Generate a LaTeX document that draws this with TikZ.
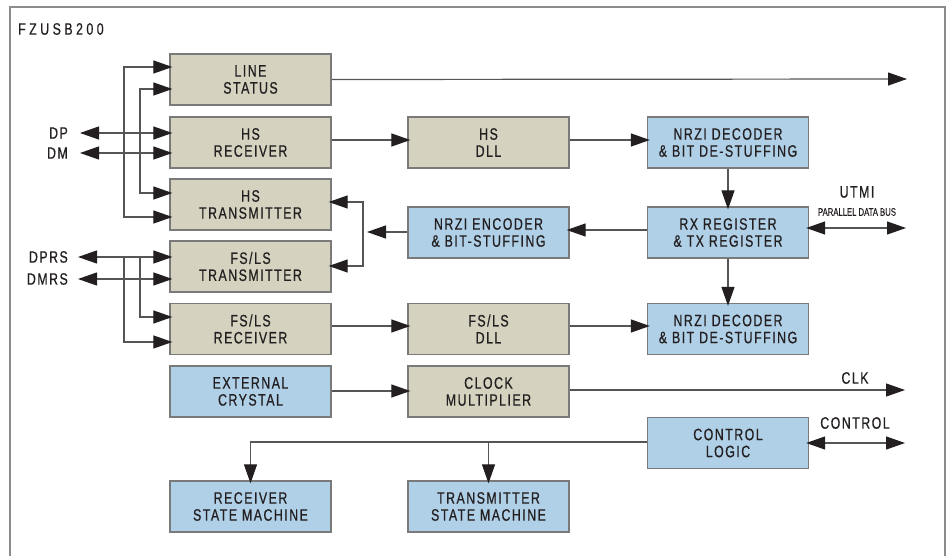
\documentclass[tikz,border=0pt]{standalone}
\usepackage{fontspec}
\usetikzlibrary{arrows.meta}
\newfontfamily\boxfont[FakeStretch=0.75,LetterSpace=9,FakeBold=0.6]{Liberation Sans}
\newfontfamily\titlefont[FakeStretch=0.75,LetterSpace=21,FakeBold=0.6]{Liberation Sans}
\newfontfamily\smallfont[FakeStretch=0.7,FakeBold=0.3]{Liberation Sans}
\definecolor{tanfill}{HTML}{D5D2C0}
\definecolor{bluefill}{HTML}{B0D0E8}
\definecolor{boxline}{HTML}{7A7A7A}
\definecolor{wirec}{HTML}{555555}
\definecolor{tipc}{HTML}{231F20}
\definecolor{txt}{HTML}{231F20}
\definecolor{framec}{HTML}{8C8C8C}
\begin{document}
\begin{tikzpicture}[x=1pt,y=-1pt,
  >={Triangle[length=19pt,width=13pt,color=tipc]},
  box/.style={draw=boxline, line width=1.3pt, minimum width=161pt, minimum height=51pt,
    inner sep=0pt, align=center, text=txt, font=\boxfont\fontsize{16.5}{17}\selectfont},
  tanbox/.style={box, fill=tanfill},
  bluebox/.style={box, fill=bluefill},
  wire/.style={draw=wirec, line width=1.2pt},
  arr/.style={wire, ->, shorten >=-3pt},
  arrb/.style={wire, <->, shorten >=-3pt, shorten <=-3pt},
  lbl/.style={text=txt, inner sep=0pt, font=\boxfont\fontsize{16.5}{17}\selectfont}
]
\useasboundingbox (0,0) rectangle (947,556);
\draw[framec, line width=2pt] (9.5,560) -- (9.5,7) -- (945,7) -- (945,560);
\node[lbl, anchor=west, font=\titlefont\fontsize{16.5}{17}\selectfont] (title) at (18,29) {FZUSB200};

% boxes
\node[tanbox] (ls)   at (250.5,79.5)  {LINE\\STATUS};
\node[tanbox] (hsrx) at (250.5,142.5) {HS\\RECEIVER};
\node[tanbox] (hstx) at (250.5,204.5) {HS\\TRANSMITTER};
\node[tanbox] (fstx) at (250.5,266.5) {FS/LS\\TRANSMITTER};
\node[tanbox] (fsrx) at (250.5,329)   {FS/LS\\RECEIVER};
\node[bluebox] (xtal) at (250.5,391.5) {EXTERNAL\\CRYSTAL};
\node[bluebox] (rsm)  at (250.5,506.5) {RECEIVER\\STATE MACHINE};
\node[tanbox] (hsdll) at (488.5,142.5) {HS\\DLL};
\node[bluebox] (enc)  at (488.5,232.5) {NRZI ENCODER\\\& BIT-STUFFING};
\node[tanbox] (fsdll) at (488.5,329)   {FS/LS\\DLL};
\node[tanbox] (clkm)  at (488.5,391.5) {CLOCK\\MULTIPLIER};
\node[bluebox] (tsm)  at (488.5,506.5) {TRANSMITTER\\STATE MACHINE};
\node[bluebox] (dec1) at (728,142.5) {NRZI DECODER\\\& BIT DE-STUFFING};
\node[bluebox] (reg)  at (728,232.5) {RX REGISTER\\\& TX REGISTER};
\node[bluebox] (dec2) at (728,329)   {NRZI DECODER\\\& BIT DE-STUFFING};
\node[bluebox] (ctl)  at (728,443)   {CONTROL\\LOGIC};

% labels
\node[lbl, anchor=east] (dpl)   at (68,133) {DP};
\node[lbl, anchor=east] (dml)   at (68,153) {DM};
\node[lbl, anchor=east] (dprsl) at (68,257) {DPRS};
\node[lbl, anchor=east] (dmrsl) at (68,279) {DMRS};
\node[lbl] (utmil) at (857,192) {UTMI};
\node[text=txt, inner sep=0pt, font=\smallfont\fontsize{11}{12}\selectfont] (pdb) at (857,212) {PARALLEL DATA BUS};
\node[lbl] (clkl) at (855,378) {CLK};
\node[lbl] (ctll) at (855,423) {CONTROL};

% coordinates
\coordinate (dp) at (80,133);
\coordinate (dm) at (80,153);
\coordinate (dprs) at (78,257);
\coordinate (dmrs) at (78,279);
\coordinate (v1t) at (124,67);
\coordinate (v1b) at (124,217);
\coordinate (v2t) at (140,89);
\coordinate (v2b) at (140,193);
\coordinate (v3t) at (124,257);
\coordinate (v3b) at (124,342);
\coordinate (v4t) at (140,257);
\coordinate (v4b) at (140,317);
\coordinate (jt) at (363,202);
\coordinate (jm) at (363,232);
\coordinate (jb) at (363,266);
\coordinate (r2) at (0,140);
\coordinate (r3) at (0,230);
\coordinate (r4) at (0,326);
\coordinate (r5) at (0,391);
\coordinate (lsout) at (907,79);
\coordinate (utmiout) at (906,228);
\coordinate (clkout) at (905,390);
\coordinate (ctlout) at (905,443);
\coordinate (bus) at (0,442);

% left wiring
\draw[arrb] (ls.west |- v1t) -- (v1t) -- (v1b) -- (hstx.west |- v1b);
\draw[arrb] (ls.west |- v2t) -- (v2t) -- (v2b) -- (hstx.west |- v2b);
\draw[arrb, shorten >=0pt] (hsrx.west |- dp) -- (dp);
\draw[arrb, shorten >=0pt] (hsrx.west |- dm) -- (dm);
\draw[arrb, shorten >=0pt] (fstx.west |- dprs) -- (dprs);
\draw[arrb, shorten >=0pt] (fstx.west |- dmrs) -- (dmrs);
\draw[arr] (v3t) -- (v3b) -- (fsrx.west |- v3b);
\draw[arr] (v4t) -- (v4b) -- (fsrx.west |- v4b);

% data paths
\draw[arr, shorten >=0pt] (ls.east) -- (lsout);
\draw[arr] (hsrx.east |- r2) -- (hsdll.west |- r2);
\draw[arr] (hsdll.east |- r2) -- (dec1.west |- r2);
\draw[arr] (dec1.south) -- (reg.north);
\draw[arr] (reg.south) -- (dec2.north);
\draw[arr] (reg.west |- r3) -- (enc.east |- r3);
\draw[arr, shorten >=4pt] (enc.west |- jm) -- (jm);
\draw[arrb] (hstx.east |- jt) -- (jt) -- (jb) -- (fstx.east |- jb);
\draw[arr] (fsrx.east |- r4) -- (fsdll.west |- r4);
\draw[arr] (fsdll.east |- r4) -- (dec2.west |- r4);
\draw[arr] (xtal.east |- r5) -- (clkm.west |- r5);
\draw[arr, shorten >=0pt] (clkm.east |- clkout) -- (clkout);
\draw[arrb, shorten >=0pt] (reg.east |- utmiout) -- (utmiout);
\draw[arrb, shorten >=0pt] (ctl.east |- ctlout) -- (ctlout);
\draw[arr] (ctl.west |- bus) -- (rsm.north |- bus) -- (rsm.north);
\draw[arr] (tsm.north |- bus) -- (tsm.north);
\end{tikzpicture}
\end{document}
